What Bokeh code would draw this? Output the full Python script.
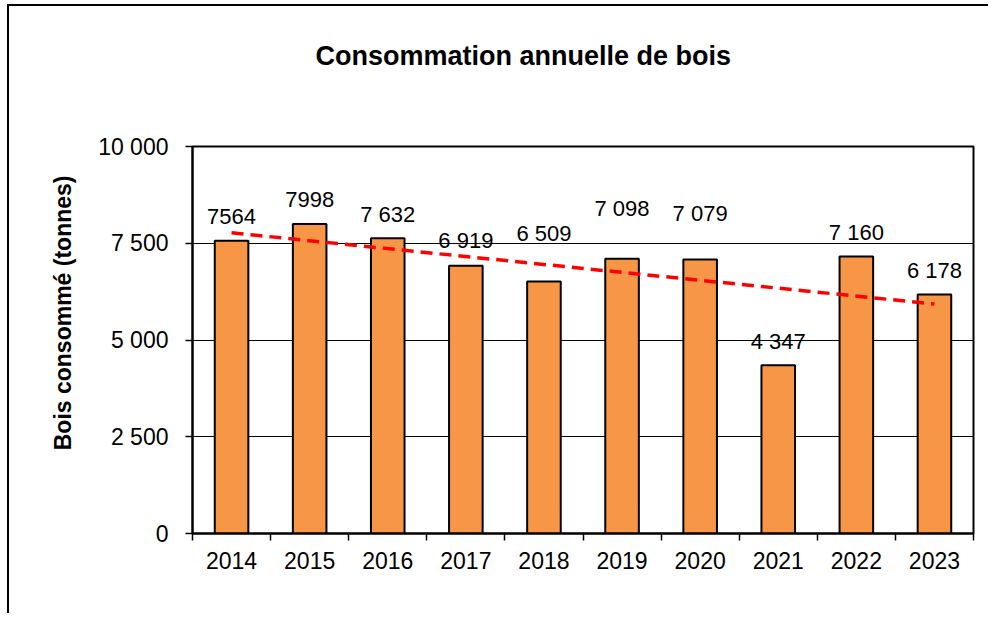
from bokeh.plotting import figure
from bokeh.models import FixedTicker, CustomJSTickFormatter, Title, ColumnDataSource
from bokeh.core.properties import value
from bokeh.embed import file_html
from bokeh.resources import INLINE

# ---- data ----
years = ["2014", "2015", "2016", "2017", "2018", "2019", "2020", "2021", "2022", "2023"]
consumption = [7564, 7998, 7632, 6919, 6509, 7098, 7079, 4347, 7160, 6178]
value_labels = ["7564", "7998", "7 632", "6 919", "6 509", "7 098", "7 079", "4 347", "7 160", "6 178"]
trend_ends = [7770, 5930]          # linear trend line at 2014 and 2023
y_ticks = [0, 2500, 5000, 7500, 10000]
y_tick_labels = ["0", "2 500", "5 000", "7 500", "10 000"]

# ---- styles ----
label_raise_px = [24, 24, 24, 25, 48, 50, 46, 24, 24, 24]
FONT = "Liberation Sans"
BAR_COLOR = "#F79646"

xs = [i + 0.5 for i in range(len(years))]

p = figure(
    frame_width=781, frame_height=387,
    min_border_left=183, min_border_right=15, min_border_top=140, min_border_bottom=80,
    x_range=(0, len(years)), y_range=(0, 10000),
    output_backend="svg", toolbar_location=None,
    background_fill_color="white", border_fill_color="white",
)
p.styles = {"border-left": "2px solid black", "border-top": "2px solid black",
            "margin-left": "7px", "margin-top": "4px"}

src = ColumnDataSource(dict(x=xs, top=consumption, lab=value_labels,
                            yoff=[-v for v in label_raise_px]))

p.vbar(x="x", top="top", width=0.43, bottom=0, source=src,
       fill_color=BAR_COLOR, line_color="black", line_width=2)

p.line(x=[xs[0], xs[-1]], y=trend_ends, line_color="#FF0000", line_width=3.5,
       line_dash="12 7")

p.text(x="x", y="top", text="lab", y_offset="yoff", source=src,
       text_align="center", text_baseline="middle",
       text_font=value(FONT), text_font_size="22px", text_color="black")

# grid / outline
p.xgrid.visible = False
p.ygrid.ticker = FixedTicker(ticks=y_ticks)
p.ygrid.grid_line_color = "black"
p.ygrid.grid_line_width = 1
p.outline_line_color = "black"
p.outline_line_width = 2

# y axis
ya = p.yaxis[0]
ya.ticker = FixedTicker(ticks=y_ticks)
ya.major_label_overrides = {t: l for t, l in zip(y_ticks, y_tick_labels)}
ya.minor_tick_line_color = None
ya.major_tick_out = 7
ya.major_tick_in = 0
ya.major_tick_line_color = "black"
ya.major_tick_line_width = 1.5
ya.axis_line_color = "black"
ya.axis_line_width = 2
ya.major_label_standoff = 17
ya.major_label_text_font = FONT
ya.major_label_text_font_size = "23px"
ya.major_label_text_color = "black"

# x axis: labels at centres, tick marks between categories
xa = p.xaxis[0]
xa.ticker = FixedTicker(ticks=xs, minor_ticks=list(range(len(years) + 1)))
xa.formatter = CustomJSTickFormatter(args=dict(labels=years),
                                     code="return labels[Math.floor(tick)];")
xa.major_tick_out = 0
xa.major_tick_in = 0
xa.minor_tick_out = 7
xa.minor_tick_in = 0
xa.minor_tick_line_color = "black"
xa.minor_tick_line_width = 1.5
xa.axis_line_color = "black"
xa.axis_line_width = 2
xa.major_label_standoff = 11
xa.major_label_text_font = FONT
xa.major_label_text_font_size = "23px"
xa.major_label_text_color = "black"

# title
p.title.text = "Consommation annuelle de bois"
p.title.align = "left"
p.title.offset = 123
p.title.standoff = 60
p.title.text_font = FONT
p.title.text_font_size = "27px"
p.title.text_font_style = "bold"
p.title.text_color = "black"
p.title.padding = dict(left=0, right=0, top=0, bottom=46)

# y-axis label as a left-side title (placed above the frame centre like the reference)
p.add_layout(Title(text="Bois consommé (tonnes)", align="right", offset=29,
                   standoff=40, text_font=FONT, text_font_size="23px",
                   text_font_style="bold", text_color="black"), "left")

open("out.html", "w").write(file_html(p, INLINE))
